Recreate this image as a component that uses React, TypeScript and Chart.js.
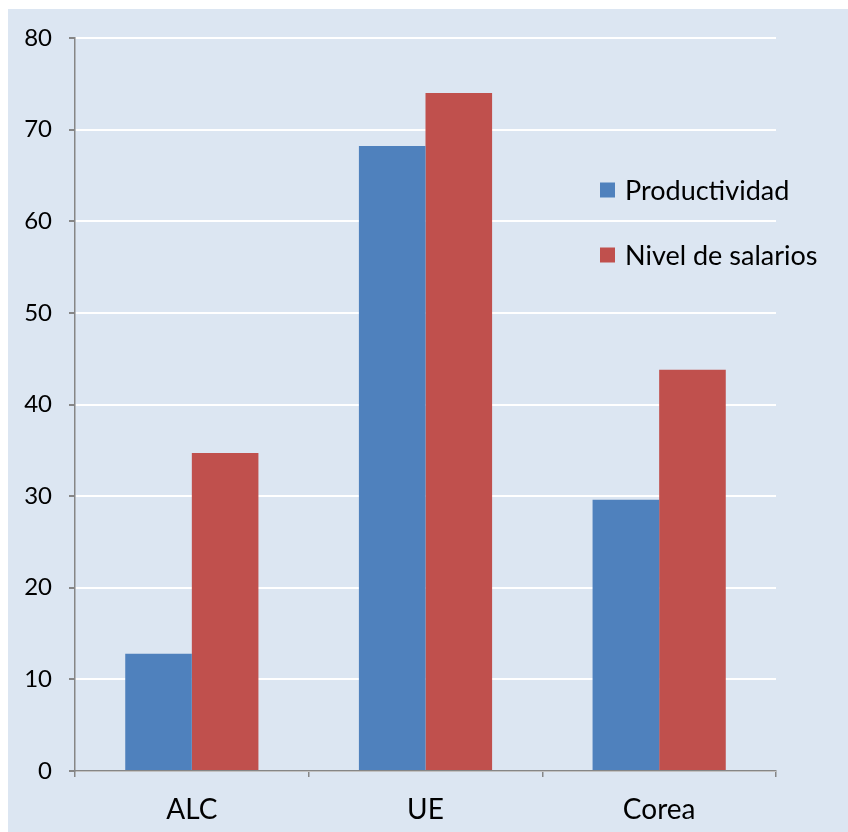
import React, { useEffect, useRef } from 'react';
import { Chart, registerables } from 'chart.js';

Chart.register(...registerables);

const categories = ['ALC', 'UE', 'Corea'];
const seriesNames = ['Productividad', 'Nivel de salarios'];
const productividad = [12.8, 68.2, 29.6];
const salarios = [34.7, 74.0, 43.8];
const yTickValues = [0, 10, 20, 30, 40, 50, 60, 70, 80];

const BLUE = '#4F81BD';
const RED = '#C0504D';
const BG = '#DCE6F2';
const AXIS = '#868686';
const FONT = 'Lato';

export default function App() {
  const ref = useRef<HTMLCanvasElement>(null);

  useEffect(() => {
    document.body.style.margin = '0';
    document.body.style.overflow = 'hidden';
    const canvas = ref.current;
    if (!canvas) return;

    const bgPlugin = {
      id: 'bgPlugin',
      beforeDraw(chart: any) {
        const ctx = chart.ctx;
        ctx.save();
        ctx.fillStyle = BG;
        ctx.fillRect(8, 9, chart.width - 8, chart.height - 9);
        ctx.restore();
      },
    };

    const legendPlugin = {
      id: 'customLegend',
      afterDraw(chart: any) {
        const ctx = chart.ctx;
        ctx.save();
        const rows = [190, 255];
        chart.data.datasets.forEach((ds: any, i: number) => {
          const cy = rows[i];
          ctx.fillStyle = ds.backgroundColor;
          ctx.fillRect(600, cy - 7.5, 15, 15);
          ctx.fillStyle = '#000';
          ctx.font = `27px ${FONT}`;
          ctx.textBaseline = 'middle';
          ctx.textAlign = 'left';
          ctx.fillText(ds.label, 625, cy + 1);
        });
        ctx.restore();
      },
    };

    const chart = new Chart(canvas, {
      type: 'bar',
      data: {
        labels: categories,
        datasets: [
          { label: seriesNames[0], data: productividad, backgroundColor: BLUE, borderWidth: 0 },
          { label: seriesNames[1], data: salarios, backgroundColor: RED, borderWidth: 0 },
        ],
      },
      options: {
        animation: false,
        responsive: false,
        devicePixelRatio: 1,
        layout: { padding: { top: 38, right: 72, left: 0, bottom: 0 } },
        plugins: { legend: { display: false }, tooltip: { enabled: false } },
        datasets: { bar: { categoryPercentage: 0.57, barPercentage: 1 } },
        scales: {
          x: {
            grid: {
              display: true,
              drawOnChartArea: false,
              offset: true,
              color: AXIS,
              lineWidth: 1.5,
              tickLength: 6,
            },
            border: { color: AXIS, width: 1.5 },
            ticks: { font: { family: FONT, size: 28 }, color: '#000', padding: 16 },
            afterFit: (s: any) => { s.height = 61; },
          },
          y: {
            min: 0,
            max: 80,
            afterBuildTicks: (s: any) => { s.ticks = yTickValues.map((v) => ({ value: v })); },
            ticks: { font: { family: FONT, size: 24 }, color: '#000', padding: 17 },
            grid: { color: '#FFFFFF', lineWidth: 2, tickColor: AXIS, tickLength: 6 },
            border: { color: AXIS, width: 1.5 },
            afterFit: (s: any) => { s.width = 75; },
          },
        },
      },
      plugins: [bgPlugin, legendPlugin],
    });

    return () => chart.destroy();
  }, []);

  return (
    <div style={{ width: 848, height: 832 }}>
      <canvas ref={ref} width={848} height={832} style={{ display: 'block' }} />
    </div>
  );
}
